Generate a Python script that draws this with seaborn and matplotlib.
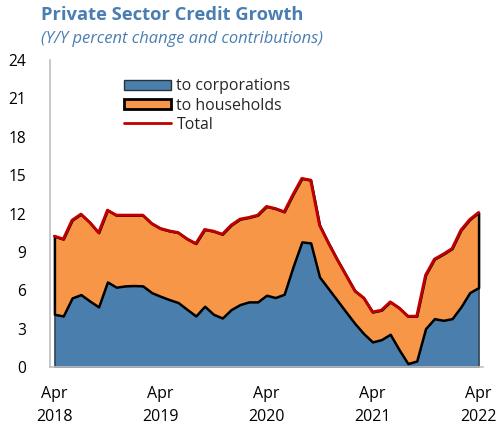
import numpy as np
import pandas as pd
import matplotlib
matplotlib.use("Agg")
import matplotlib.pyplot as plt
import seaborn as sns
from matplotlib.patches import Patch
from matplotlib.lines import Line2D

# Monthly data, Apr 2018 .. Apr 2022
months = pd.date_range("2018-04-01", "2022-04-01", freq="MS")
corporations = [4.12, 3.99, 5.40, 5.66, 5.16, 4.70, 6.65, 6.24, 6.34, 6.37, 6.34, 5.82,
                5.53, 5.27, 5.04, 4.51, 3.99, 4.75, 4.12, 3.83, 4.49, 4.88, 5.09, 5.09,
                5.61, 5.43, 5.69, 7.83, 9.78, 9.70, 7.04, 6.13, 5.22, 4.30, 3.40, 2.61,
                1.96, 2.14, 2.56, 1.36, 0.27, 0.47, 3.00, 3.78, 3.65, 3.78, 4.70, 5.82,
                6.21]
total = [10.23, 10.00, 11.48, 11.95, 11.30, 10.50, 12.26, 11.87, 11.87, 11.87, 11.87, 11.22,
         10.83, 10.64, 10.51, 10.02, 9.65, 10.75, 10.62, 10.38, 11.09, 11.56, 11.69, 11.87,
         12.55, 12.39, 12.13, 13.49, 14.74, 14.61, 11.09, 9.70, 8.40, 7.18, 5.95, 5.40,
         4.30, 4.44, 5.09, 4.62, 3.97, 3.97, 7.18, 8.43, 8.82, 9.26, 10.70, 11.53,
         12.08]
households = [t - c for t, c in zip(total, corporations)]
yticks = [0, 3, 6, 9, 12, 15, 18, 21, 24]
tick_labels = ["Apr\n2018", "Apr\n2019", "Apr\n2020", "Apr\n2021", "Apr\n2022"]

df = pd.DataFrame({"idx": np.arange(len(months)), "corporations": corporations,
                   "households": households, "total": total})

sns.set_theme(style="white")
plt.rcParams["font.family"] = ["Open Sans", "DejaVu Sans"]

BLUE = "#4A7FAD"
ORANGE = "#F79646"
RED = "#C00000"
TITLE = "#4A7EB1"
GRID = "#BFBFBF"

fig = plt.figure(figsize=(5.03, 4.29), dpi=100)
ax = fig.add_axes([50/503, 1-367/429, 433/503, 307/429])

x = df["idx"].values
c = df["corporations"].values
t = df["total"].values
ax.fill_between(x, 0, c, facecolor=BLUE, edgecolor="#27323C", linewidth=1.0, zorder=2)
ax.fill_between(x, c, t, facecolor=ORANGE, edgecolor="black", linewidth=1.8, zorder=3)
sns.lineplot(data=df, x="idx", y="total", color=RED, linewidth=2.1, ax=ax, zorder=4)

ax.set_xlim(-0.5, 48.5)
ax.set_ylim(0, 24)
ax.set_yticks(yticks)
ax.set_yticklabels([str(v) for v in yticks], fontsize=11.2)
ax.set_xticks([0, 12, 24, 36, 48])
ax.set_xticklabels(tick_labels, fontsize=11.5, linespacing=1.58)
ax.set_xticks([-0.5, 11.5, 23.5, 35.5, 47.5], minor=True)
ax.tick_params(axis="x", which="major", length=0, pad=14, colors="black")
ax.tick_params(axis="x", which="minor", length=6, direction="out", color=GRID, width=1)
ax.tick_params(axis="y", which="major", length=5, direction="in", color=GRID, width=1,
               pad=17, colors="black")
ax.tick_params(axis="y", which="major", color=GRID)
for lab in ax.get_yticklabels():
    lab.set_horizontalalignment("right")
ax.set_xlabel("")
ax.set_ylabel("")
for s in ["top", "right"]:
    ax.spines[s].set_visible(False)
for s in ["left", "bottom"]:
    ax.spines[s].set_color(GRID)
    ax.spines[s].set_linewidth(1.2)
    ax.spines[s].set_zorder(5)

handles = [Patch(facecolor=BLUE, edgecolor="#27323C", linewidth=1.0),
           Patch(facecolor=ORANGE, edgecolor="black", linewidth=2.0),
           Line2D([0], [0], color=RED, linewidth=2.0)]
leg = ax.legend(handles, ["to corporations", "to households", "Total"],
                loc="upper left", bbox_to_anchor=(0.172, 0.940), frameon=False,
                fontsize=11.4, handlelength=2.95, handleheight=0.62,
                handletextpad=0.33, labelspacing=0.2, borderpad=0, borderaxespad=0)

fig.text(41/503, 1-15/429, "Private Sector Credit Growth", fontsize=13.2, fontweight="bold",
         color=TITLE, va="center", ha="left")
fig.text(41/503, 1-39/429, "(Y/Y percent change and contributions)", fontsize=11.85,
         fontstyle="italic", color=TITLE, va="center", ha="left")

fig.savefig("out.png", dpi=100)
